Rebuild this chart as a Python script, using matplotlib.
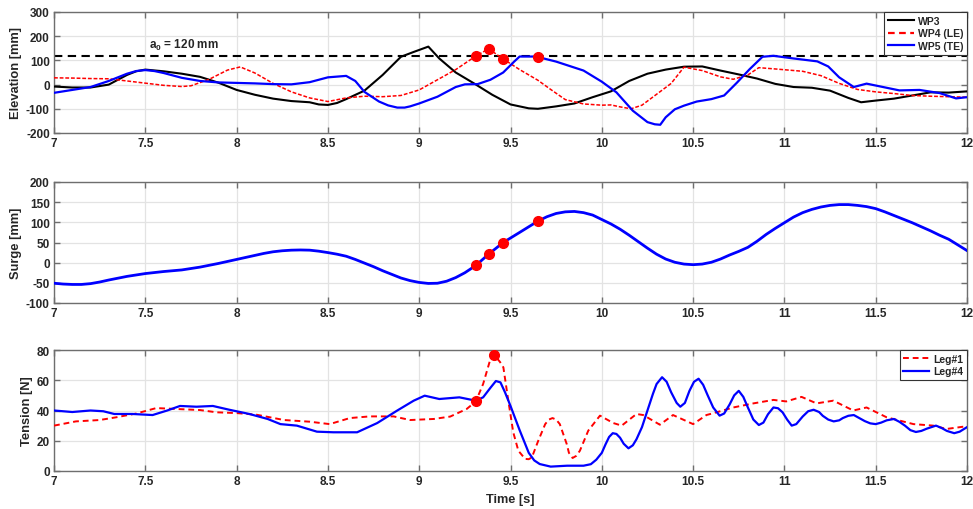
import matplotlib
matplotlib.use("Agg")
import matplotlib.pyplot as plt

plt.rcParams["font.family"] = ["Liberation Sans", "DejaVu Sans"]
plt.rcParams["font.weight"] = "bold"
plt.rcParams["mathtext.fontset"] = "custom"
plt.rcParams["mathtext.rm"] = "Liberation Sans:bold"
plt.rcParams["mathtext.it"] = "Liberation Sans:bold"
plt.rcParams["mathtext.bf"] = "Liberation Sans:bold"

# ---------------- wave elevation ----------------
wp3_t = [7.0, 7.1, 7.2, 7.3, 7.4, 7.45, 7.5, 7.6, 7.7, 7.8, 7.9, 8.0, 8.1, 8.2, 8.3, 8.4,
         8.45, 8.5, 8.55, 8.6, 8.7, 8.8, 8.9, 8.97, 9.05, 9.11, 9.2, 9.3, 9.4, 9.5, 9.6,
         9.65, 9.75, 9.85, 9.95, 10.05, 10.15, 10.25, 10.35, 10.45, 10.55, 10.65,
         10.75, 10.85, 10.95, 11.05, 11.15, 11.25, 11.35, 11.42, 11.5, 11.6, 11.7,
         11.8, 11.9, 12.0]
wp3_v = [-8, -12, -12, 0, 40, 55, 62, 55, 45, 32, 8, -22, -42, -58, -68, -73,
         -82, -84, -76, -60, -25, 40, 115, 135, 157, 108, 50, 5, -42, -82, -98,
         -100, -90, -78, -52, -28, 15, 45, 62, 74, 75, 58,
         42, 25, 3, -10, -13, -25, -55, -73, -66, -58, -45,
         -32, -33, -28]

wp4_t = [7.0, 7.1, 7.2, 7.3, 7.4, 7.5, 7.6, 7.7, 7.75, 7.85, 7.95, 8.02, 8.1, 8.2,
         8.3, 8.4, 8.5, 8.6, 8.7, 8.8, 8.9, 9.0, 9.1, 9.2, 9.31, 9.38, 9.46, 9.55,
         9.65, 9.72, 9.8, 9.9, 10.0, 10.05, 10.1, 10.16, 10.22, 10.3, 10.38, 10.45,
         10.55, 10.65, 10.72, 10.8, 10.86, 10.96, 11.1, 11.2, 11.3, 11.4, 11.5,
         11.6, 11.7, 11.8, 11.9, 12.0]
wp4_v = [28, 27, 25, 24, 15, 6, -3, -8, -5, 22, 60, 73, 48, 5,
         -30, -55, -70, -55, -48, -50, -45, -22, 20, 62, 118, 148, 106, 62,
         18, -20, -62, -80, -85, -84, -92, -100, -85, -40, 5, 72,
         58, 32, 22, 40, 70, 64, 55, 37, 5, -20, -30,
         -37, -45, -48, -50, -52]

wp5_t = [7.0, 7.1, 7.2, 7.3, 7.4, 7.45, 7.5, 7.55, 7.6, 7.7, 7.8, 7.9, 8.0, 8.1, 8.2,
         8.3, 8.4, 8.5, 8.6, 8.65, 8.7, 8.78, 8.83, 8.88, 8.92, 8.95, 9.0, 9.1, 9.2,
         9.25, 9.32, 9.39, 9.46, 9.52, 9.55, 9.64, 9.75, 9.9, 10.0, 10.08, 10.17,
         10.25, 10.29, 10.32, 10.35, 10.4, 10.45, 10.52, 10.6, 10.67, 10.74, 10.81,
         10.88, 10.94, 11.05, 11.18, 11.24, 11.3, 11.38, 11.45, 11.54, 11.63, 11.74,
         11.85, 11.94, 12.0]
wp5_v = [-34, -22, -10, 15, 45, 56, 60, 56, 48, 28, 15, 9, 7, 5, 2,
         1, 10, 30, 36, 15, -30, -70, -86, -95, -95, -90, -78, -50, -10,
         1, 2, 20, 50, 95, 116, 116, 95, 58, 12, -32, -108,
         -155, -164, -166, -135, -102, -87, -70, -60, -45, 8, 64,
         115, 119, 108, 96, 75, 30, -10, 4, -10, -24, -22,
         -35, -57, -52]

a0 = 120

# ---------------- platform surge ----------------
surge_t = [7.0, 7.05, 7.1, 7.15, 7.2, 7.25, 7.3, 7.4, 7.5, 7.6, 7.7, 7.8, 7.9, 8.0,
           8.1, 8.15, 8.2, 8.25, 8.3, 8.35, 8.4, 8.45, 8.5, 8.55, 8.6, 8.65, 8.7,
           8.75, 8.8, 8.85, 8.9, 8.95, 9.0, 9.05, 9.1, 9.15, 9.2, 9.25, 9.31, 9.38,
           9.46, 9.55, 9.65, 9.7, 9.75, 9.8, 9.85, 9.9, 9.95, 10.0, 10.05, 10.1,
           10.15, 10.2, 10.25, 10.3, 10.35, 10.4, 10.45, 10.5, 10.55, 10.6, 10.65,
           10.7, 10.75, 10.8, 10.85, 10.9, 10.95, 11.0, 11.05, 11.1, 11.15, 11.2,
           11.25, 11.3, 11.35, 11.4, 11.45, 11.5, 11.55, 11.6, 11.65, 11.7, 11.75,
           11.8, 11.85, 11.9, 11.95, 12.0]
surge_v = [-51, -53, -54, -54, -52, -48, -43, -34, -27, -22, -18, -11, -2, 8,
           18, 23, 27, 29.5, 31, 31.5, 31, 28.5, 25, 21, 16, 8, -1,
           -10, -20, -29, -38, -44.5, -49, -51.5, -51, -46, -37, -25, -7, 21,
           50, 75, 103, 114, 122, 126, 127, 124, 118, 107, 96, 83,
           68, 52, 36, 21, 9, 1, -3.5, -5, -3.5, 1, 9,
           19, 28, 38, 53, 70, 85, 99, 113, 124, 132, 138,
           142, 144, 144, 142, 139, 134, 126, 117, 108, 99, 89,
           79, 68, 58, 44, 30]

# ---------------- mooring line tension ----------------
leg1_t = [7.0, 7.12, 7.25, 7.34, 7.45, 7.56, 7.67, 7.8, 7.89, 8.0, 8.11, 8.26, 8.4,
          8.51, 8.62, 8.73, 8.86, 8.95, 9.08, 9.17, 9.26, 9.31, 9.35, 9.39, 9.41,
          9.443, 9.461, 9.488, 9.515, 9.543, 9.58, 9.6, 9.617, 9.652, 9.69, 9.71,
          9.73, 9.75, 9.77, 9.808, 9.82, 9.84, 9.86, 9.88, 9.926, 9.99, 10.063,
          10.109, 10.19, 10.227, 10.318, 10.39, 10.5, 10.573, 10.628, 10.72, 10.83,
          10.94, 11.01, 11.094, 11.176, 11.268, 11.377, 11.45, 11.56, 11.707,
          11.815, 11.888, 11.98, 12.0]
leg1_v = [30, 32.8, 33.7, 35.5, 38, 41.6, 41, 40.3, 38.8, 38.3, 37.2, 33.7, 32.6,
          31, 35, 36.1, 36.1, 33.7, 34.4, 36, 41, 46, 57.5, 74, 77,
          72, 68.5, 46.5, 25.6, 13.4, 8, 7.8, 9, 20, 31, 34,
          35, 34, 31, 17.8, 12, 8.6, 10, 13.4, 26.7, 36.6, 31.7,
          30, 37.7, 37, 30.6, 37, 31, 37, 38.8, 42, 44.7,
          47, 46, 49, 44.7, 46.5, 40, 42, 35.5, 31,
          30, 27.8, 29.3, 29.3]

leg4_t = [7.0, 7.1, 7.2, 7.27, 7.33, 7.43, 7.54, 7.62, 7.69, 7.78, 7.87, 7.96, 8.07,
          8.17, 8.24, 8.33, 8.44, 8.53, 8.66, 8.77, 8.88, 8.97, 9.03, 9.11, 9.22,
          9.31, 9.35, 9.39, 9.42, 9.445, 9.47, 9.5, 9.55, 9.6, 9.63, 9.66, 9.72,
          9.81, 9.9, 9.94, 9.97, 10.0, 10.02, 10.04, 10.06, 10.08, 10.1, 10.12,
          10.146, 10.17, 10.19, 10.22, 10.25, 10.28, 10.3, 10.33, 10.355, 10.38,
          10.41, 10.43, 10.455, 10.48, 10.505, 10.53, 10.555, 10.58, 10.61, 10.645,
          10.67, 10.7, 10.725, 10.75, 10.775, 10.8, 10.83, 10.86, 10.885, 10.91,
          10.94, 10.965, 10.99, 11.015, 11.04, 11.065, 11.1, 11.13, 11.16, 11.19,
          11.21, 11.24, 11.27, 11.3, 11.32, 11.35, 11.38, 11.41, 11.44, 11.47, 11.5,
          11.53, 11.56, 11.6, 11.63, 11.66, 11.69, 11.72, 11.75, 11.78, 11.83, 11.86,
          11.89, 11.93, 11.96, 12.0]
leg4_v = [40, 39, 40, 39.5, 37.7, 37.7, 37, 40, 43, 42.5, 43, 40.5, 37.7,
          34.4, 31, 30, 26, 25.6, 25.6, 31.7, 40, 46.5, 49.8, 47.6, 48.7,
          46.5, 48.7, 55, 59.5, 58.6, 52, 43, 27, 12, 7, 4.6, 2.9,
          3.5, 3.5, 4.5, 7.5, 12, 17.5, 22.5, 25, 24.5, 22, 18,
          15, 17, 21, 29, 40, 51, 57.5, 62, 59, 52,
          45, 42.5, 45, 53, 59, 61, 57, 50, 42, 36.6,
          38, 44, 50, 53, 49, 42, 34, 30.4, 32, 37.5,
          42, 41.5, 38.8, 34, 30, 31, 36, 39.5, 40.5, 39,
          36.5, 34, 32.8, 33.5, 35, 36.5, 37, 35, 33, 31.5, 31,
          32, 33.5, 34.4, 32.5, 30, 27, 25.8, 26.5, 28, 30, 28.5,
          26.5, 25, 26, 29]

# highlighted instants
elev_mark_t = [9.31, 9.38, 9.46, 9.65]
elev_mark_v = [118, 148, 106, 116]
surge_mark_t = [9.31, 9.38, 9.46, 9.65]
surge_mark_v = [-7, 21, 50, 103]
tension_mark_t = [9.31, 9.41]
tension_mark_v = [46, 77]

x_ticks = [7, 7.5, 8, 8.5, 9, 9.5, 10, 10.5, 11, 11.5, 12]
x_labels = ["7", "7.5", "8", "8.5", "9", "9.5", "10", "10.5", "11", "11.5", "12"]

RED = "#ff0000"
BLUE = "#0000ff"
TXT = "#262626"
FRAME = "#6e6e6e"

fig = plt.figure(figsize=(9.73, 5.10), dpi=100)
W, H = 973.0, 510.0


def make_axes(top_px, bottom_px):
    left, right = 54, 967
    return fig.add_axes([left / W, 1 - bottom_px / H, (right - left) / W,
                         (bottom_px - top_px) / H])


def style(ax, yticks, ylabel):
    ax.set_xlim(7, 12)
    ax.set_xticks(x_ticks)
    ax.set_xticklabels(x_labels)
    ax.set_ylim(yticks[0], yticks[-1])
    ax.set_yticks(yticks)
    ax.set_yticklabels([str(v) for v in yticks])
    ax.grid(True, color="#e3e3e3", linewidth=0.9)
    ax.set_axisbelow(True)
    ax.tick_params(direction="in", length=4, width=1, color=FRAME,
                   top=True, right=True, labelsize=8.5, labelcolor=TXT, pad=3)
    for lab in ax.get_xticklabels() + ax.get_yticklabels():
        lab.set_fontweight("bold")
    for sp in ax.spines.values():
        sp.set_color(FRAME)
        sp.set_linewidth(1.0)
    ax.set_ylabel(ylabel, fontsize=9.3, fontweight="bold", color=TXT, labelpad=3)


def legend(ax, handles):
    lg = ax.legend(handles=handles, loc="upper right", borderaxespad=0,
                   fancybox=False, framealpha=1, edgecolor="#333333",
                   handlelength=2.5, handletextpad=0.4, borderpad=0.35,
                   labelspacing=0.25, prop={"weight": "bold", "size": 7.5})
    lg.get_frame().set_linewidth(0.8)
    for t in lg.get_texts():
        t.set_color(TXT)
    return lg


# top panel: elevation
ax1 = make_axes(13, 134)
style(ax1, [-200, -100, 0, 100, 200, 300], "Elevation [mm]")
ax1.axhline(a0, color="black", linestyle=(0, (4, 2.6)), linewidth=1.5, zorder=2)
ax1.text(7.52, 166, r"$\mathregular{a_0}$ = 120 mm", fontsize=8.5,
         fontweight="bold", color=TXT, va="center", ha="left")
h3, = ax1.plot(wp3_t, wp3_v, color="black", linewidth=1.5, label="WP3", zorder=3)
ax1.plot(wp4_t, wp4_v, color=RED, linestyle="--", linewidth=1.1,
         dashes=(2.5, 1.2), zorder=3)
h5, = ax1.plot(wp5_t, wp5_v, color=BLUE, linewidth=1.6, label="WP5 (TE)", zorder=3)
ax1.plot(elev_mark_t, elev_mark_v, "o", color=RED, markersize=7, zorder=5)
l4, = ax1.plot([], [], color=RED, linestyle="--", linewidth=1.6, dashes=(3, 2),
               label="WP4 (LE)")
legend(ax1, [h3, l4, h5])

# middle panel: surge
ax2 = make_axes(183, 304)
style(ax2, [-100, -50, 0, 50, 100, 150, 200], "Surge [mm]")
ax2.plot(surge_t, surge_v, color=BLUE, linewidth=2.0, zorder=3)
ax2.plot(surge_mark_t, surge_mark_v, "o", color=RED, markersize=7, zorder=5)

# bottom panel: tension
ax3 = make_axes(351, 472)
style(ax3, [0, 20, 40, 60, 80], "Tension [N]")
g1, = ax3.plot(leg1_t, leg1_v, color=RED, linestyle="--", linewidth=1.4,
               dashes=(3, 2), label="Leg#1", zorder=3)
g4, = ax3.plot(leg4_t, leg4_v, color=BLUE, linewidth=1.6, label="Leg#4", zorder=3)
ax3.plot(tension_mark_t, tension_mark_v, "o", color=RED, markersize=7, zorder=5)
legend(ax3, [g1, g4])
ax3.set_xlabel("Time [s]", fontsize=9.2, fontweight="bold", color=TXT, labelpad=4)

fig.savefig("out.png", dpi=100)
